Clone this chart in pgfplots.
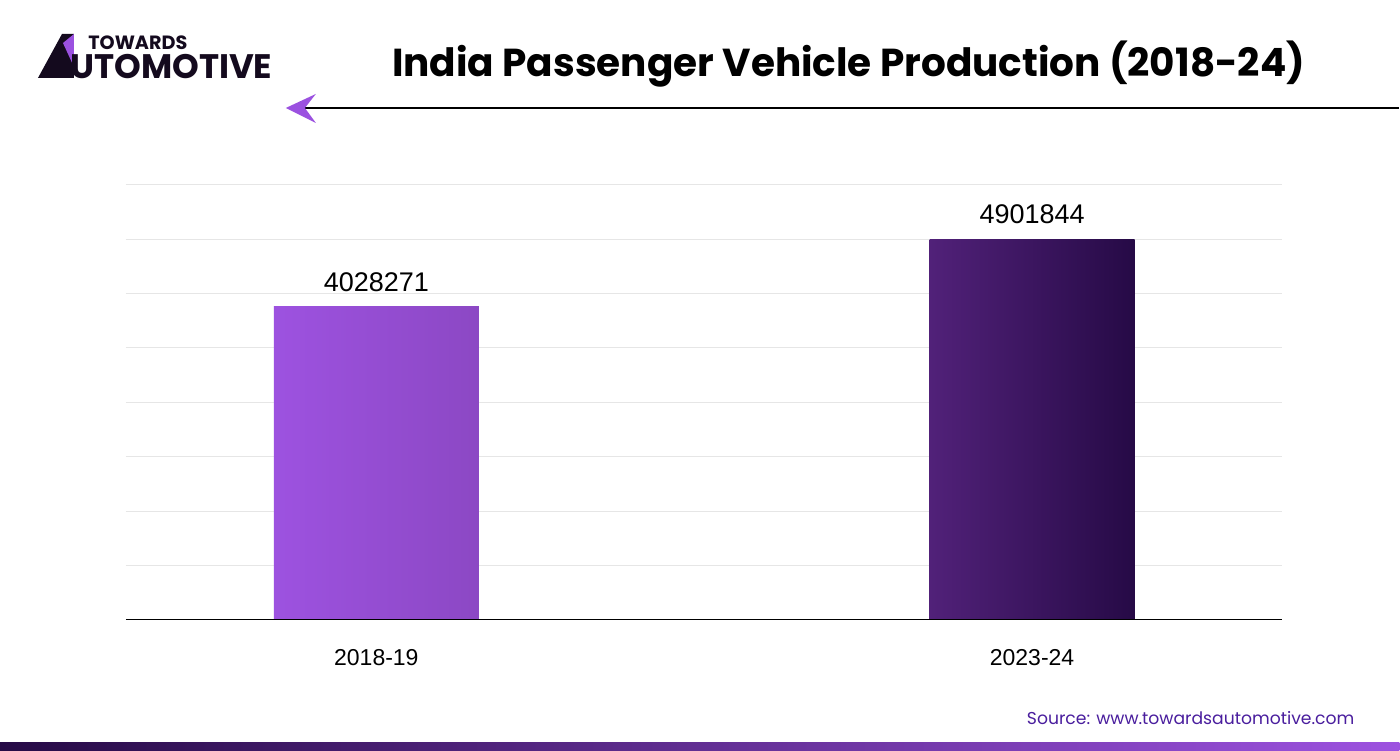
\documentclass[border=0pt]{standalone}
\usepackage{fontspec}
\usepackage{pgfplots}
\pgfplotsset{compat=1.18}
\setmainfont{Liberation Sans}
\newfontfamily\poppins{Poppins}
\definecolor{gridgray}{HTML}{E6E6E6}
\definecolor{baseline}{HTML}{4A4A4A}
\definecolor{lightA}{HTML}{9D52E0}
\definecolor{lightB}{HTML}{8C48C4}
\definecolor{darkA}{HTML}{512179}
\definecolor{darkB}{HTML}{260A46}
\definecolor{srcblue}{HTML}{4A1E9E}
\definecolor{logoink}{HTML}{140A1E}
\definecolor{logopurple}{HTML}{9B51E0}
\begin{document}
\begin{tikzpicture}[x=0.5pt,y=0.5pt]
% page frame: 1400 x 751 px, origin bottom-left, 0.5pt per px
\fill[white] (0,0) rectangle (1400,751);

% bottom gradient strip
\shade[left color=darkB, right color=lightA] (0,0) rectangle (1400,8);

% title and rule
\node[anchor=center, font=\poppins\bfseries\fontsize{19.5}{24}\selectfont] at (849,687) {India Passenger Vehicle Production (2018-24)};
\draw[black, line width=0.6pt] (300,643) -- (1400,643);
\fill[logopurple] (286,643) -- (316,657) -- (305,643) -- (316,628) -- cycle;

% logo
\fill[logoink] (38,673) -- (62,717) -- (74,717) -- (74,673) -- cycle;
\fill[logopurple] (63,708) -- (74,717) -- (74,684) -- cycle;
\node[anchor=west, font=\poppins\bfseries\fontsize{9.6}{10}\selectfont, text=logoink, inner sep=0pt] at (88,708) {TOWARDS};
\node[anchor=west, font=\poppins\bfseries\fontsize{17}{18}\selectfont, text=logoink, inner sep=0pt] at (70,684) {UTOMOTIVE};

% source
\node[anchor=east, font=\poppins\fontsize{8.6}{10}\selectfont, text=srcblue] at (1362,33) {Source: www.towardsautomotive.com};

\begin{axis}[
  at={(63pt,65.5pt)}, anchor=south west,
  scale only axis,
  width=578.5pt, height=217.5pt,
  xmin=-0.3819, xmax=1.3819,
  ymin=0, ymax=5600000,
  scaled y ticks=false,
  ytick={700000,1400000,2100000,2800000,3500000,4200000,4900000,5600000},
  yticklabels={},
  ymajorgrids, grid style={gridgray, line width=0.5pt},
  axis line style={draw=none},
  major tick length=0pt,
  xtick={0,1}, xticklabels={2018-19,2023-24},
  x tick label style={font=\fontsize{11.5}{14}\selectfont, yshift=-19pt, anchor=center},
  ybar, bar width=102.5pt, bar shift=0pt,
  point meta=explicit symbolic,
  nodes near coords,
  every node near coord/.append style={font=\fontsize{13.5}{16}\selectfont, text=black, yshift=4pt},
  clip=false,
]
\addplot[draw=none, left color=lightA, right color=lightB] coordinates {(0,4028271) [4028271]};
\addplot[draw=none, left color=darkA, right color=darkB] coordinates {(1,4901844) [4901844]};
\draw[baseline, line width=0.6pt] (axis cs:-0.3819,0) -- (axis cs:1.3819,0);
\end{axis}
\end{tikzpicture}
\end{document}
